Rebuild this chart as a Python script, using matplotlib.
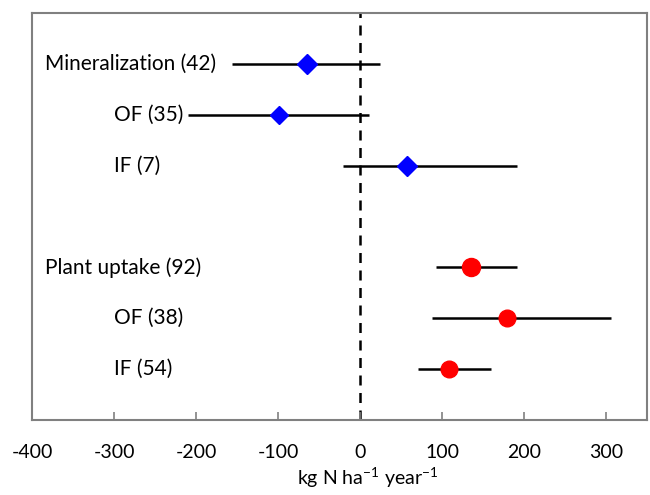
import matplotlib.pyplot as plt
import numpy as np

labels = ["Mineralization (42)", "OF (35)", "IF (7)", "Plant uptake (92)", "OF (38)", "IF (54)"]
ypos = [6, 5, 4, 2, 1, 0]
means = [-65, -99, 57, 135, 179, 108]
lows = [-156, -210, -21, 93, 88, 71]
highs = [24, 11, 191, 191, 306, 160]
label_x = [-384, -300, -300, -384, -300, -300]
markers = ["D", "D", "D", "o", "o", "o"]
colors = ["#0000ff", "#0000ff", "#0000ff", "#ff0000", "#ff0000", "#ff0000"]
sizes = [10, 9, 10, 13, 12, 12]

plt.rcParams['font.family'] = ['Lato', 'DejaVu Sans']
plt.rcParams['axes.unicode_minus'] = False
plt.rcParams['mathtext.fontset'] = 'custom'
plt.rcParams['mathtext.rm'] = 'Lato'

fig = plt.figure(figsize=(6.5, 4.95), dpi=100)
ax = fig.add_axes([32/650, 1-420/495, 615/650, 407/495])

ax.axvline(0, color="black", ls=(0, (4, 3)), lw=1.8, zorder=1)

for i in range(len(labels)):
    ax.hlines(ypos[i], lows[i], highs[i], color="black", lw=1.8, zorder=2)
    ax.plot(means[i], ypos[i], marker=markers[i], color=colors[i], ms=sizes[i], zorder=3)
    ax.text(label_x[i], ypos[i], labels[i], fontsize=15, va="center", ha="left")

ax.set_xlim(-400, 350)
ax.set_ylim(-1, 7)
ax.set_xticks(np.arange(-400, 301, 100))
ax.set_yticks([])
ax.tick_params(axis="x", direction="in", length=6, width=1.2, color="#808080",
               labelsize=14, pad=17)
for s in ax.spines.values():
    s.set_color("#808080")
    s.set_linewidth(1.5)

ax.set_xlabel("kg N ha$^{\\mathregular{-1}}$ year$^{\\mathregular{-1}}$", fontsize=14)
ax.xaxis.set_label_coords(0.545, -0.11)

fig.savefig("out.png", dpi=100)
